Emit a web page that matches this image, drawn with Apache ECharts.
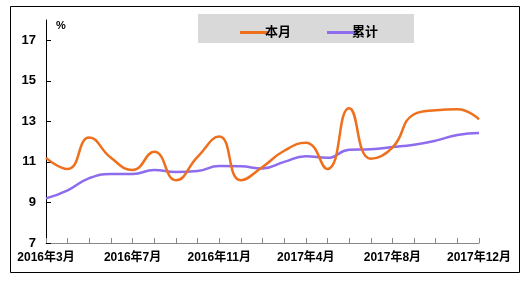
<!DOCTYPE html>
<html>
<head>
<meta charset="utf-8">
<script src="https://cdn.jsdelivr.net/npm/echarts@6/dist/echarts.min.js"></script>
<style>
html,body{margin:0;padding:0;background:#fff;}
#c{width:529px;height:282px;}
</style>
</head>
<body>
<div id="c"></div>
<script>
var categories = ['2016年3月','2016年4月','2016年5月','2016年6月','2016年7月','2016年8月','2016年9月','2016年10月','2016年11月','2016年12月','2017年2月','2017年3月','2017年4月','2017年5月','2017年6月','2017年7月','2017年8月','2017年9月','2017年10月','2017年11月','2017年12月'];
var monthly = [11.2, 10.65, 12.2, 11.2, 10.6, 11.5, 10.1, 11.25, 12.25, 10.1, 10.75, 11.55, 11.95, 10.65, 13.65, 11.15, 11.7, 13.35, 13.55, 13.6, 13.1];
var cumulative = [9.2, 9.6, 10.2, 10.4, 10.4, 10.6, 10.5, 10.55, 10.8, 10.78, 10.68, 11.0, 11.28, 11.2, 11.6, 11.63, 11.73, 11.85, 12.05, 12.33, 12.42];
var yTicks = [7, 9, 11, 13, 15, 17];
var seriesNames = ['本月', '累计'];

var FONT = 'Liberation Sans, Arial, Noto Sans CJK SC, sans-serif';
var chart = echarts.init(document.getElementById('c'), null, {renderer: 'canvas'});
chart.setOption({
  backgroundColor: '#ffffff',
  animation: false,
  graphic: [
    {type: 'rect', shape: {x: 10.5, y: 6.5, width: 509, height: 266}, style: {fill: 'none', stroke: '#000', lineWidth: 1}, z: 0},
    {type: 'rect', shape: {x: 198, y: 14, width: 216, height: 29}, style: {fill: '#d9d9d9'}, z: 0},
    {type: 'text', left: 56, top: 20, style: {text: '%', font: 'bold 11px ' + FONT, fill: '#000'}}
  ],
  legend: {
    left: 235, top: 21,
    itemWidth: 28, itemHeight: 3, itemGap: 36,
    icon: 'rect',
    textStyle: {fontFamily: FONT, fontWeight: 'bold', fontSize: 13, color: '#000', padding: [0, 0, 0, -8]},
    data: seriesNames
  },
  grid: {left: 46, right: 50, top: 20, bottom: 39, containLabel: false},
  xAxis: {
    type: 'category',
    data: categories,
    boundaryGap: false,
    axisLine: {lineStyle: {color: '#888', width: 1}},
    axisTick: {show: true, inside: true, length: 5, interval: 0, lineStyle: {color: '#888'}},
    axisLabel: {interval: 3, margin: 9, color: '#000', fontFamily: FONT, fontWeight: 'bold', fontSize: 12, showMaxLabel: true},
    splitLine: {show: false}
  },
  yAxis: {
    type: 'value',
    min: 7, max: 18, interval: 1,
    axisLine: {show: true, lineStyle: {color: '#000', width: 1}},
    axisTick: {show: true, inside: true, length: 5, customValues: yTicks, lineStyle: {color: '#000'}},
    axisLabel: {customValues: yTicks, margin: 10, color: '#000', fontFamily: FONT, fontWeight: 'bold', fontSize: 13},
    splitLine: {show: false}
  },
  series: [
    {name: seriesNames[0], type: 'line', data: monthly, smooth: 0.5, symbol: 'none', itemStyle: {color: '#EE6F1C'}, lineStyle: {color: '#EE6F1C', width: 2.5}, z: 3},
    {name: seriesNames[1], type: 'line', data: cumulative, smooth: 0.5, symbol: 'none', itemStyle: {color: '#8E6CEE'}, lineStyle: {color: '#8E6CEE', width: 2.5}, z: 2}
  ]
});
</script>
</body>
</html>
